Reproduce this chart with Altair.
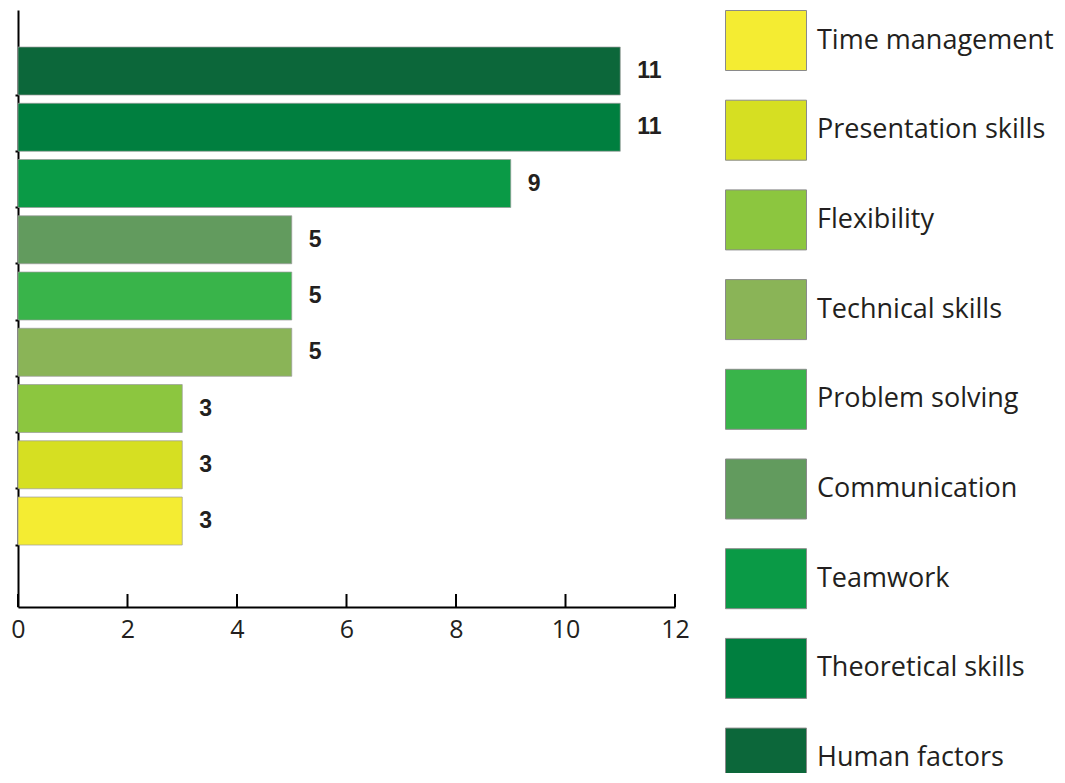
import altair as alt
import pandas as pd

# Data (top-to-bottom bar order)
skills = ["Human factors", "Theoretical skills", "Teamwork", "Communication",
          "Problem solving", "Technical skills", "Flexibility",
          "Presentation skills", "Time management"]
counts = [11, 11, 9, 5, 5, 5, 3, 3, 3]
colors = ["#0c673a", "#007f3f", "#0a9a46", "#629b5e", "#39b44a",
          "#8ab457", "#8cc63f", "#d6df22", "#f4ec32"]
x_ticks = [0, 2, 4, 6, 8, 10, 12]

legend_order = list(reversed(skills))
legend_colors = list(reversed(colors))

df = pd.DataFrame({"skill": skills, "count": counts})
ticks_df = pd.DataFrame({"count": x_ticks})

W, H = 657, 597
TEXT = "#231f20"
FONT = "Open Sans"

y_scale = alt.Scale(paddingInner=0.147, paddingOuter=0.88, align=0.374)

y_enc = alt.Y("skill:N", sort=skills, scale=y_scale,
              axis=alt.Axis(labels=False, title=None, domainColor="black",
                            domainWidth=2, tickSize=3, tickWidth=2,
                            tickColor="black", bandPosition=1, grid=False))
x_axis = alt.Axis(values=x_ticks, format="d", tickSize=0, title=None, grid=False,
                  domainColor="black", domainWidth=2, labelFlush=False,
                  labelAlign="center",
                  labelFont=FONT, labelFontSize=25, labelColor=TEXT,
                  labelPadding=10)
x_enc = alt.X("count:Q", scale=alt.Scale(domain=[0, 12], nice=False), axis=x_axis)

bars = alt.Chart(df).mark_bar(stroke="#9a9a9a", strokeWidth=1, strokeOpacity=0.7).encode(
    x=x_enc,
    y=y_enc,
    color=alt.Color("skill:N",
                    scale=alt.Scale(domain=legend_order, range=legend_colors),
                    legend=alt.Legend(orient="none", legendX=707, legendY=0,
                                      direction="vertical", title=None,
                                      padding=0, offset=0,
                                      symbolType="M-1,-1H1.7V1H-1Z",
                                      symbolSize=3600, symbolOpacity=1,
                                      symbolStrokeColor="#8a8a8a",
                                      symbolStrokeWidth=1,
                                      labelOffset=31, rowPadding=24.7,
                                      labelFont=FONT, labelFontSize=27,
                                      labelColor=TEXT, labelLimit=400)),
)

labels = alt.Chart(df).mark_text(align="left", baseline="middle", dx=17,
                                 fontSize=23, fontWeight="bold",
                                 font="Liberation Sans", color=TEXT).encode(
    x=alt.X("count:Q"),
    y=alt.Y("skill:N", sort=skills),
    text=alt.Text("count:Q"),
)

tick_rules = alt.Chart(ticks_df).mark_rule(color="black", strokeWidth=2).encode(
    x=x_enc,
    y=alt.value(H),
    y2=alt.value(H - 13),
)

chart = alt.layer(bars, labels, tick_rules).properties(
    width=W, height=H,
    autosize=alt.AutoSizeParams(type="none"),
    padding={"left": 10, "top": 2, "right": 382, "bottom": 166},
).configure_view(stroke=None)

chart.save("out.html", embed_options={"renderer": "svg", "actions": False})
